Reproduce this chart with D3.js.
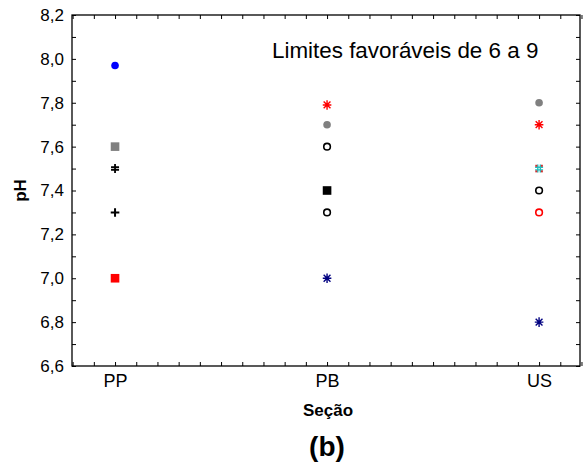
<!DOCTYPE html>
<html><head><meta charset="utf-8">
<script src="https://cdn.jsdelivr.net/npm/d3@7"></script>
<style>body{margin:0;background:#fff}svg{display:block;font-family:Arial,"Liberation Sans",sans-serif}</style>
</head><body>
<svg id="c" width="586" height="468"></svg>
<script>
const categories = ["PP", "PB", "US"];
const yTicks = [6.6, 6.8, 7.0, 7.2, 7.4, 7.6, 7.8, 8.0, 8.2];
// each series: marker, color, values by category (null = absent)
const seriesFilledCircle1 = {marker: "circle", color: "#0000ff", values: [7.97, null, null]};
const seriesFilledCircle2 = {marker: "circle", color: "#808080", values: [null, 7.7, 7.8]};
const seriesSquareGray = {marker: "square", color: "#808080", values: [7.6, null, null]};
const seriesSquareBlack = {marker: "square", color: "#000000", values: [null, 7.4, null]};
const seriesSquareRed = {marker: "square", color: "#ff0000", values: [7.0, null, null]};
const seriesPlus = {marker: "plus", color: "#000000", values: [7.3, null, null]};
const seriesDoublePlus = {marker: "dplus", color: "#000000", values: [7.5, null, null]};
const seriesAsteriskRed = {marker: "asterisk", color: "#ff0000", values: [null, 7.79, 7.7]};
const seriesAsteriskNavy = {marker: "asterisk", color: "#000080", values: [null, 7.0, 6.8]};
const seriesOpenBlack1 = {marker: "open", color: "#000000", values: [null, 7.6, 7.4]};
const seriesOpenBlack2 = {marker: "open", color: "#000000", values: [null, 7.3, null]};
const seriesOpenRed = {marker: "open", color: "#ff0000", values: [null, null, 7.3]};
const seriesCyanStar = {marker: "cstar", color: "#20c0c0", values: [null, null, 7.5]};
const allSeries = [seriesFilledCircle1, seriesFilledCircle2, seriesSquareGray, seriesSquareBlack,
  seriesSquareRed, seriesPlus, seriesDoublePlus, seriesAsteriskRed, seriesAsteriskNavy,
  seriesOpenBlack1, seriesOpenBlack2, seriesOpenRed, seriesCyanStar];

const svg = d3.select("#c");
const L = 72, T = 15, R = 580, B = 366;
const x = d3.scaleLinear().domain([0.797, 3.193]).range([L, R]);
const y = d3.scaleLinear().domain([6.6, 8.2]).range([B, T]);

const fmt = d => d.toFixed(1).replace(".", ",");
const minorX = d3.range(0.8, 3.2, 0.1).map(v => +v.toFixed(1));
const minorY = d3.range(6.6, 8.21, 0.1).map(v => +v.toFixed(1));

// frame
svg.append("rect").attr("x", L).attr("y", T).attr("width", R - L).attr("height", B - T)
  .attr("fill", "none").attr("stroke", "#000").attr("stroke-width", 1.3);

const gx = svg.append("g").attr("transform", `translate(0,${B})`)
  .call(d3.axisBottom(x).tickValues(minorX).tickSize(-4).tickFormat(""));
const gxTop = svg.append("g").attr("transform", `translate(0,${T})`)
  .call(d3.axisTop(x).tickValues(minorX).tickSize(-4).tickFormat(""));
const gxl = svg.append("g").attr("transform", `translate(0,${B})`)
  .call(d3.axisBottom(x).tickValues([1, 2, 3]).tickSize(0).tickPadding(8).tickFormat((d, i) => categories[i]));
const gy = svg.append("g").attr("transform", `translate(${L},0)`)
  .call(d3.axisLeft(y).tickValues(minorY).tickSize(-4).tickFormat(""));
const gyR = svg.append("g").attr("transform", `translate(${R},0)`)
  .call(d3.axisRight(y).tickValues(minorY).tickSize(-4).tickFormat(""));
const gyl = svg.append("g").attr("transform", `translate(${L},0)`)
  .call(d3.axisLeft(y).tickValues(yTicks).tickSize(0).tickPadding(8).tickFormat(fmt));
[gx, gxTop, gy, gyR, gxl, gyl].forEach(g => { g.select(".domain").remove(); g.selectAll("line").attr("stroke", "#000").attr("stroke-width", 1); });
[gxl, gyl].forEach(g => g.selectAll("text").attr("font-size", 17).attr("fill", "#000").attr("font-family", "Arial, 'Liberation Sans', sans-serif"));
gxl.selectAll("text").attr("font-size", 18);

// axis titles
svg.append("text").attr("x", 328).attr("y", 416).attr("text-anchor", "middle")
  .attr("font-size", 17).attr("font-weight", "bold").text("Seção");
svg.append("text").attr("transform", `translate(26,${(T + B) / 2}) rotate(-90)`).attr("text-anchor", "middle")
  .attr("font-size", 17).attr("font-weight", "bold").text("pH");
svg.append("text").attr("x", 327).attr("y", 456).attr("text-anchor", "middle")
  .attr("font-size", 28).attr("font-weight", "bold").text("(b)");
svg.append("text").attr("x", 272).attr("y", 58)
  .attr("font-size", 22.4).text("Limites favoráveis de 6 a 9");

// markers
const pts = [];
allSeries.forEach(s => s.values.forEach((v, i) => { if (v != null) pts.push({s, cx: x(i + 1), cy: y(v)}); }));
const g = svg.append("g");
pts.forEach(p => {
  const m = g.append("g").attr("transform", `translate(${p.cx},${p.cy})`);
  const c = p.s.color;
  switch (p.s.marker) {
    case "circle": m.append("circle").attr("r", 3.8).attr("fill", c); break;
    case "square": m.append("rect").attr("x", -4.3).attr("y", -4.3).attr("width", 8.6).attr("height", 8.6).attr("fill", c); break;
    case "open": m.append("circle").attr("r", 3.3).attr("fill", "none").attr("stroke", c).attr("stroke-width", 1.6); break;
    case "plus":
      m.append("path").attr("d", "M-4.3,0H4.3M0,-4.3V4.3").attr("stroke", c).attr("stroke-width", 2); break;
    case "dplus":
      m.append("path").attr("d", "M-4,-1.3H4M-4,1.3H4M0,-4.5V4.5").attr("stroke", c).attr("stroke-width", 1.8); break;
    case "asterisk":
      m.append("path").attr("d", "M-4.3,0H4.3M0,-4.8V4.8M-3.4,-3.4L3.4,3.4M-3.4,3.4L3.4,-3.4").attr("stroke", c).attr("stroke-width", 1.4); break;
    case "cstar":
      m.append("path").attr("d", "M-4,-1.3H4M-4,1.3H4M-1.3,-4V4M1.3,-4V4").attr("stroke", c).attr("stroke-width", 1.4);
      [[-2.8,-2.8],[2.8,-2.8],[-2.8,2.8],[2.8,2.8]].forEach(([dx,dy]) => m.append("rect").attr("x", dx-1).attr("y", dy-1).attr("width", 2).attr("height", 2).attr("fill", "#d03030"));
      break;
  }
});
</script>
</body></html>
